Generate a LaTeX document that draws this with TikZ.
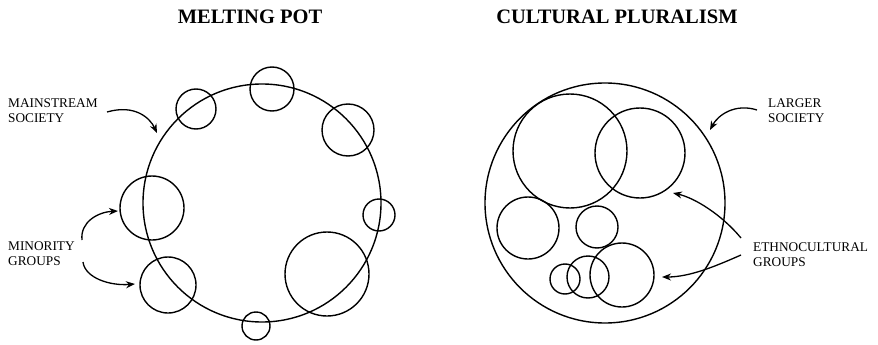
\documentclass[tikz,border=0pt]{standalone}
\usepackage{fontspec}
\setmainfont{Liberation Serif}
\usetikzlibrary{arrows.meta}
\begin{document}
\begin{tikzpicture}[x=1pt,y=-1pt,
 grp/.style={circle,draw,line width=1.4pt,inner sep=0pt,minimum size=#1},
 lbl/.style={align=left,font=\fontsize{13.3}{15}\selectfont,inner sep=0pt,anchor=north west},
 ttl/.style={font=\fontsize{20.5}{22}\selectfont\bfseries,inner sep=0pt},
 arr/.style={line width=1.3pt,-{Stealth[length=9pt,width=7pt]}}]
\path[use as bounding box] (0,0) rectangle (878,345);
% titles
\node[ttl] (t1) at (250,17) {MELTING POT};
\node[ttl] (t2) at (617,17) {CULTURAL PLURALISM};
% melting pot
\node[grp=238pt] (ms) at (262,203) {};
\node[grp=40pt] (m1) at (196,109) {};
\node[grp=44pt] (m2) at (272,89) {};
\node[grp=52pt] (m3) at (348,130) {};
\node[grp=32pt] (m4) at (379,215) {};
\node[grp=84pt] (m5) at (327,274) {};
\node[grp=28pt] (m6) at (256,326) {};
\node[grp=56pt] (m7) at (168,285) {};
\node[grp=64pt] (m8) at (152,208) {};
\node[lbl] (lms) at (8,98) {MAINSTREAM\\SOCIETY};
\node[lbl] (lmg) at (8,241) {MINORITY\\GROUPS};
\coordinate (a1s) at (107,112);
\coordinate (a1e) at (157,133);
\coordinate (a2s) at (82,240);
\coordinate (a2e) at (118,211);
\coordinate (a3s) at (83,262);
\coordinate (a3e) at (135,284);
\draw[arr] (a1s) .. controls (135,104) and (150,118) .. (a1e);
\draw[arr] (a2s) .. controls (80,222) and (98,212) .. (a2e);
\draw[arr] (a3s) .. controls (85,278) and (110,286) .. (a3e);
% cultural pluralism
\node[grp=240pt] (ls) at (605,203) {};
\node[grp=114pt] (c1) at (570,151) {};
\node[grp=90pt] (c2) at (640,153) {};
\node[grp=62pt] (c3) at (528,228) {};
\node[grp=42pt] (c4) at (597,227) {};
\node[grp=30pt] (c5) at (565,279) {};
\node[grp=42pt] (c6) at (588,277) {};
\node[grp=64pt] (c7) at (622,275) {};
\node[lbl] (lls) at (768,98) {LARGER\\SOCIETY};
\node[lbl] (leg) at (753,242) {ETHNOCULTURAL\\GROUPS};
\coordinate (b1s) at (757,110);
\coordinate (b1e) at (710,130);
\coordinate (b2s) at (741,238);
\coordinate (b2e) at (673,193);
\coordinate (b3s) at (741,255);
\coordinate (b3e) at (662,277);
\draw[arr] (b1s) .. controls (735,103) and (718,115) .. (b1e);
\draw[arr] (b2s) .. controls (722,215) and (695,198) .. (b2e);
\draw[arr] (b3s) .. controls (716,266) and (690,277) .. (b3e);
\end{tikzpicture}
\end{document}
